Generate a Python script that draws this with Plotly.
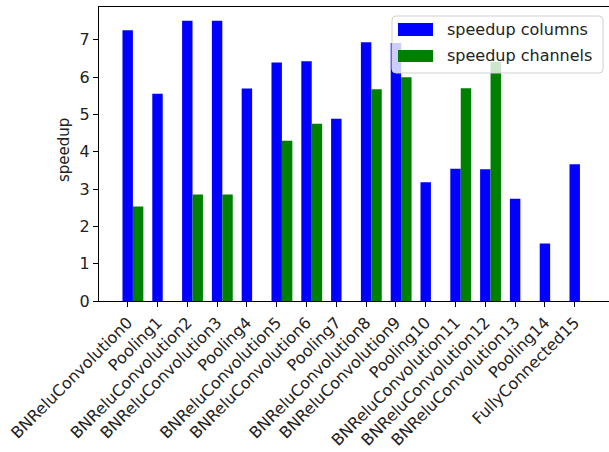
import plotly.graph_objects as go

layers = ["BNReluConvolution0", "Pooling1", "BNReluConvolution2", "BNReluConvolution3",
          "Pooling4", "BNReluConvolution5", "BNReluConvolution6", "Pooling7",
          "BNReluConvolution8", "BNReluConvolution9", "Pooling10", "BNReluConvolution11",
          "BNReluConvolution12", "BNReluConvolution13", "Pooling14", "FullyConnected15"]
speedup_columns = [7.25, 5.55, 7.51, 7.51, 5.69, 6.39, 6.42, 4.88,
                   6.93, 6.91, 3.18, 3.54, 3.53, 2.74, 1.54, 3.66]
speedup_channels = [2.53, None, 2.85, 2.85, None, 4.29, 4.75, None,
                    5.67, 5.99, None, 5.70, 6.40, None, None, None]
series_names = ["speedup columns", "speedup channels"]
series_colors = ["#0000ff", "#008000"]
y_label = "speedup"

W, H = 609, 452
ML, MR, MT, MB = 99, 0, 7, 151
PW, PH = W - ML - MR, H - MT - MB

def px(xp):
    return (xp - ML) / PW

def py(yp):
    return (H - MB - yp) / PH

bar_w = 0.35
idx = list(range(len(layers)))

fig = go.Figure()
fig.add_trace(go.Bar(x=idx, y=speedup_columns, width=bar_w, name=series_names[0],
                     marker=dict(color=series_colors[0], line=dict(width=0))))
fig.add_trace(go.Bar(x=[i + bar_w for i in idx], y=speedup_channels, width=bar_w,
                     name=series_names[1],
                     marker=dict(color=series_colors[1], line=dict(width=0))))

# matplotlib-style legend box
shapes = []
annotations = []
x0, x1, y0, y1, r = 392, 603, 16, 73, 4
path = (f"M {px(x0 + r)},{py(y0)} L {px(x1 - r)},{py(y0)} "
        f"Q {px(x1)},{py(y0)} {px(x1)},{py(y0 + r)} L {px(x1)},{py(y1 - r)} "
        f"Q {px(x1)},{py(y1)} {px(x1 - r)},{py(y1)} L {px(x0 + r)},{py(y1)} "
        f"Q {px(x0)},{py(y1)} {px(x0)},{py(y1 - r)} L {px(x0)},{py(y0 + r)} "
        f"Q {px(x0)},{py(y0)} {px(x0 + r)},{py(y0)} Z")
shapes.append(dict(type="path", path=path, xref="paper", yref="paper", layer="above",
                   fillcolor="rgba(255,255,255,0.8)", line=dict(color="#d0d0d0", width=1)))
rows = [(23, 36, 30), (50, 62, 56)]
for (ry0, ry1, ty), name, col in zip(rows, series_names, series_colors):
    shapes.append(dict(type="rect", xref="paper", yref="paper", layer="above",
                       x0=px(398), x1=px(433), y0=py(ry1), y1=py(ry0),
                       fillcolor=col, line=dict(width=0)))
    annotations.append(dict(text=name, xref="paper", yref="paper", x=px(445), y=py(ty),
                            xanchor="left", yanchor="middle", showarrow=False,
                            font=dict(size=16, color="#222")))

# y-axis label
annotations.append(dict(text=y_label, xref="paper", yref="paper", x=px(64), y=py(150),
                        xanchor="center", yanchor="middle", textangle=-90, showarrow=False,
                        font=dict(size=15, color="#222")))

fig.update_layout(
    width=W, height=H,
    margin=dict(l=ML, r=MR, t=MT, b=MB, autoexpand=False),
    paper_bgcolor="white", plot_bgcolor="white",
    font=dict(family="DejaVu Sans", size=16, color="#222"),
    barmode="overlay",
    showlegend=False,
    shapes=shapes,
    annotations=annotations,
    xaxis=dict(range=[-0.963, 16.15], tickmode="array", tickvals=idx, ticktext=layers,
               tickangle=-45, showgrid=False, zeroline=False, showline=True,
               linecolor="black", linewidth=1, mirror=True, ticks="outside",
               ticklen=5, tickcolor="black", automargin=False),
    yaxis=dict(range=[0, 7.875], tickmode="array", tickvals=[0, 1, 2, 3, 4, 5, 6, 7],
               showgrid=False, zeroline=False, showline=True, linecolor="black",
               linewidth=1, ticks="outside", ticklen=5, tickcolor="black",
               automargin=False),
)

fig.write_html("out.html", config={"displayModeBar": False},
               post_script="document.body.style.margin='0';document.body.style.overflow='hidden';")
